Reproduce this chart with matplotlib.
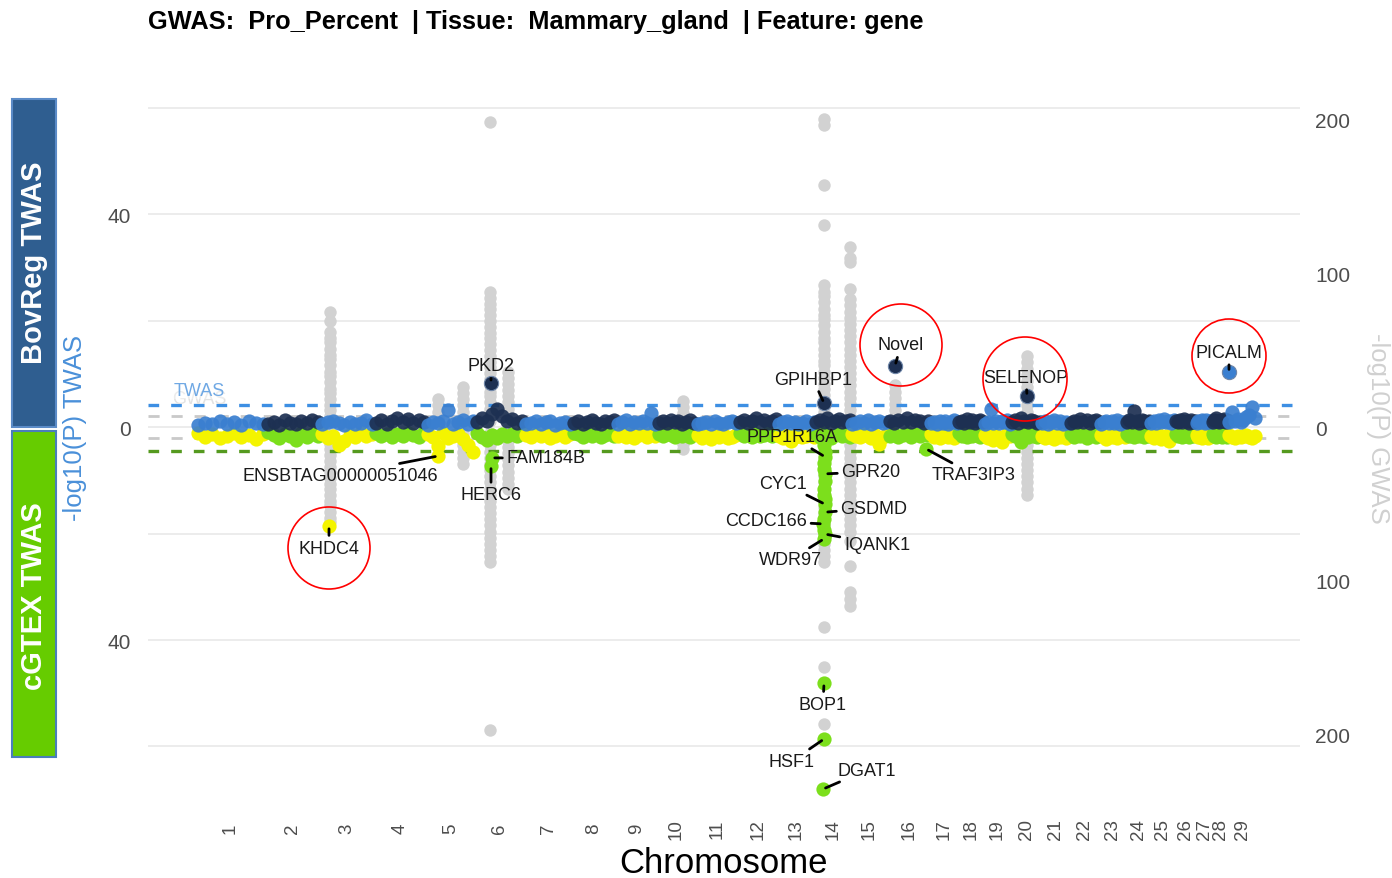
import numpy as np
import matplotlib.pyplot as plt
from matplotlib.patches import Circle, Rectangle

plt.rcParams['font.family'] = ['Liberation Sans', 'DejaVu Sans']

# ============================================
# Data
# ============================================

chroms = list(range(1, 30))
chrom_len = [142, 108, 108, 104, 98, 98, 96, 88, 82, 78, 84, 80, 74, 72,
             74, 84, 56, 52, 54, 60, 58, 60, 52, 48, 50, 42, 32, 32, 56]

# BovReg TWAS -log10(P), background genes of each chromosome
bov_band = [
    [0.3, 0.8, 0.5, 1.1, 0.6, 0.9, 0.4, 1.2, 0.7, 0.5],
    [0.6, 1.0, 0.4, 1.3, 0.8, 0.5, 1.1, 0.7, 1.4, 0.9],
    [0.5, 0.9, 1.2, 0.7, 0.4, 1.0, 0.6, 0.8, 1.3, 0.5],
    [0.8, 1.4, 0.6, 1.1, 1.7, 0.9, 1.5, 0.7, 1.3, 1.0],
    [0.4, 1.0, 0.7, 1.2, 3.2, 0.5, 0.9, 1.3, 0.6, 1.1],
    [0.9, 1.6, 1.2, 2.4, 3.4, 2.0, 1.1, 1.5, 0.8, 1.2],
    [0.5, 0.8, 1.1, 0.6, 0.9, 1.2, 0.4, 0.7, 1.0, 0.6],
    [0.7, 1.2, 0.5, 1.0, 1.4, 0.8, 0.6, 1.1, 0.9, 1.3],
    [0.6, 0.9, 1.3, 0.5, 1.0, 0.7, 1.2, 0.8, 2.6, 0.6],
    [0.8, 1.1, 0.7, 1.3, 0.9, 1.2, 0.6, 1.0, 1.4, 0.8],
    [0.5, 0.7, 1.0, 0.6, 1.2, 0.8, 0.5, 0.9, 1.1, 0.7],
    [1.0, 1.4, 0.8, 1.2, 1.6, 0.9, 1.3, 0.7, 1.1, 1.5],
    [0.6, 0.9, 1.2, 0.7, 1.0, 0.5, 0.8, 1.1, 0.6, 0.9],
    [0.9, 1.3, 1.0, 1.6, 0.8, 1.2, 1.5, 0.9, 1.1, 1.4],
    [0.5, 0.8, 1.1, 0.7, 1.3, 0.6, 0.9, 1.2, 0.8, 1.0],
    [1.1, 0.8, 1.4, 1.0, 1.6, 0.9, 1.3, 1.1, 0.7, 1.2],
    [0.7, 1.0, 0.6, 1.2, 0.8, 1.1, 0.5, 0.9, 1.3, 0.7],
    [0.9, 1.2, 0.8, 1.5, 1.0, 1.3, 0.7, 1.1, 1.4, 0.9],
    [0.6, 1.0, 3.4, 0.8, 1.2, 0.7, 1.1, 0.9, 1.3, 0.6],
    [1.0, 1.3, 0.8, 1.6, 1.1, 0.9, 1.4, 1.2, 0.8, 1.0],
    [0.7, 1.1, 0.6, 0.9, 1.3, 0.8, 1.2, 0.5, 1.0, 0.8],
    [0.8, 1.2, 1.0, 1.5, 0.9, 1.3, 0.7, 1.1, 1.4, 0.9],
    [0.6, 0.9, 1.2, 0.7, 1.1, 0.8, 1.3, 0.6, 1.0, 0.9],
    [1.0, 1.4, 0.9, 3.0, 1.2, 0.8, 1.3, 1.1, 0.9, 1.2],
    [0.7, 1.2, 0.8, 1.4, 1.0, 1.5, 0.9, 1.1, 0.8, 1.3],
    [1.1, 0.9, 1.3, 1.0, 1.5, 1.2, 0.8, 1.4, 1.0, 1.1],
    [0.8, 1.2, 0.9, 1.4, 1.1, 0.7, 1.3, 1.0, 1.2, 0.9],
    [1.0, 1.3, 1.6, 1.1, 0.9, 1.4, 1.2, 1.5, 1.0, 1.3],
    [0.9, 2.8, 1.2, 1.5, 1.0, 1.4, 1.8, 2.2, 3.8, 1.6],
]

# cGTEx TWAS -log10(P), background genes of each chromosome
gtex_band = [
    [1.2, 1.8, 1.4, 2.0, 1.6, 1.1, 1.9, 1.5, 2.2, 1.3],
    [1.0, 1.5, 2.1, 1.3, 1.7, 2.4, 1.2, 1.9, 1.4, 1.6],
    [1.4, 2.0, 1.6, 3.4, 2.6, 1.5, 1.8, 1.2, 1.7, 1.3],
    [1.1, 1.6, 1.3, 1.9, 1.4, 1.7, 1.2, 1.5, 1.8, 1.0],
    [1.3, 1.8, 3.6, 1.2, 2.0, 1.6, 1.4, 2.2, 3.4, 4.6],
    [1.2, 1.9, 2.4, 1.5, 2.0, 1.4, 1.7, 1.3, 1.6, 1.1],
    [1.5, 1.9, 1.3, 1.7, 1.4, 2.0, 1.6, 1.2, 1.8, 1.4],
    [1.1, 1.4, 1.8, 1.2, 1.6, 1.3, 1.9, 1.5, 1.2, 1.7],
    [1.6, 1.2, 1.9, 1.4, 2.1, 1.5, 1.3, 1.8, 1.4, 1.6],
    [1.3, 1.7, 1.2, 1.5, 1.9, 1.4, 1.6, 1.1, 1.8, 1.3],
    [1.5, 2.0, 1.7, 2.3, 1.6, 1.9, 1.4, 2.1, 1.8, 1.5],
    [1.2, 1.6, 1.4, 1.9, 1.3, 1.7, 1.5, 1.2, 1.6, 1.4],
    [1.6, 2.0, 1.5, 2.6, 1.8, 1.4, 1.9, 1.7, 1.3, 1.8],
    [1.4, 1.8, 1.2, 1.6, 2.0, 1.5, 1.3, 1.7, 1.4, 1.9],
    [1.3, 1.7, 1.9, 1.4, 1.6, 2.0, 1.5, 3.2, 1.8, 1.4],
    [1.6, 1.3, 1.8, 1.5, 1.2, 1.9, 1.4, 1.7, 1.3, 1.5],
    [1.4, 1.9, 1.5, 2.1, 1.7, 1.3, 1.8, 1.6, 2.0, 1.5],
    [1.2, 1.6, 1.4, 1.8, 1.3, 1.7, 1.5, 1.2, 1.9, 1.4],
    [1.5, 2.0, 1.7, 2.4, 1.6, 1.9, 2.8, 1.8, 1.4, 1.7],
    [1.3, 1.7, 1.5, 2.9, 1.4, 1.8, 1.2, 1.6, 1.9, 1.3],
    [1.6, 2.1, 1.8, 1.5, 2.3, 1.7, 1.9, 1.4, 2.0, 1.6],
    [1.4, 1.8, 1.3, 1.7, 1.5, 2.0, 1.6, 1.2, 1.8, 1.5],
    [1.5, 1.9, 2.2, 1.6, 1.8, 1.4, 2.0, 1.7, 1.5, 1.8],
    [1.3, 1.6, 1.4, 1.8, 1.2, 1.7, 1.5, 1.9, 1.4, 1.6],
    [1.6, 2.0, 1.7, 1.5, 2.2, 1.8, 1.6, 2.6, 1.9, 1.5],
    [1.4, 1.7, 1.5, 1.9, 1.6, 1.3, 1.8, 1.5, 1.7, 1.4],
    [1.5, 1.9, 1.6, 2.1, 1.7, 1.8, 1.5, 2.0, 1.6, 1.7],
    [1.3, 1.6, 1.8, 1.4, 1.7, 1.5, 1.9, 1.6, 1.4, 1.8],
    [1.5, 1.8, 2.0, 1.6, 1.9, 1.7, 1.5, 1.8, 2.1, 1.6],
]

# labelled BovReg TWAS genes
bov_genes = ['PKD2', 'GPIHBP1', 'Novel', 'SELENOP', 'PICALM']
bov_chr = [6, 14, 16, 20, 29]
bov_pos = [32, 18, 14, 32, 2]
bov_val = [8.3, 4.5, 11.5, 5.8, 10.3]

# labelled cGTEx TWAS genes
gtex_genes = ['ENSBTAG00000051046', 'KHDC4', 'HERC6', 'FAM184B', 'PPP1R16A',
              'GPR20', 'CYC1', 'GSDMD', 'CCDC166', 'IQANK1', 'WDR97',
              'BOP1', 'HSF1', 'DGAT1', 'TRAF3IP3']
gtex_chr = [5, 3, 6, 6, 14, 14, 14, 14, 14, 14, 14, 14, 14, 14, 16]
gtex_pos = [24, 18, 32, 34, 20, 20, 20, 20, 16, 20, 18, 18, 18, 16, 76]
gtex_val = [5.45, 18.6, 7.3, 5.8, 5.6, 8.8, 14.5, 16.0, 18.2, 20.1, 21.0,
            48.1, 58.6, 68.0, 4.1]

# other cGTEx genes around DGAT1 (BTA14)
gtex_bta14_pos = [17, 19, 18, 17, 19, 18, 17, 19, 18, 17]
gtex_bta14_val = [3.4, 4.6, 6.8, 7.8, 10.2, 11.6, 12.8, 13.6, 17.2, 19.4]

# GWAS -log10(P) at the peak loci (upper = BovReg genes, lower = cGTEx genes)
gwas_chr = [3, 5, 5, 6, 6, 10, 14, 14, 16, 20]
gwas_pos = [20, 24, 74, 30, 66, 52, 17, 70, 14, 32]
gwas_up = [
    [75, 69, 62, 58, 55, 51, 47, 44, 40, 36, 33, 29, 25, 22, 18, 14, 11, 7, 4],
    [18, 14, 10, 6],
    [26, 22, 18, 14, 10, 6],
    [198, 88, 84, 80, 77, 73, 69, 65, 61, 58, 54, 50, 46, 42, 39, 35, 31,
     27, 23, 20, 16, 12, 8, 4],
    [36, 32, 28, 24, 20, 16, 12, 8],
    [17, 13, 9, 5],
    [200, 196, 157, 131, 92, 88, 85, 81, 77, 73, 70, 66, 62, 58, 55, 51,
     47, 43, 40, 36, 32, 28, 25, 21, 17, 13, 10, 6],
    [117, 110, 107, 90, 83, 79, 75, 71, 67, 63, 59, 55, 51, 47, 43, 39, 35,
     31, 27, 23, 19, 15, 11, 7, 3],
    [27, 23, 19, 15, 11, 7],
    [46, 42, 38, 34, 30, 26, 22, 18, 14, 10, 6],
]
gwas_dn = [
    [3, 7, 11, 14, 18, 22, 26, 29, 33, 37, 40, 44, 48, 51, 55, 59, 62],
    [],
    [4, 8, 12, 16, 20, 24],
    [4, 8, 12, 16, 20, 24, 28, 32, 36, 40, 44, 48, 52, 56, 60, 64, 68, 72,
     76, 80, 84, 88, 197],
    [5, 9, 13, 17, 21, 25, 29, 33, 37, 40],
    [4, 8, 11, 14],
    [4, 8, 12, 16, 20, 24, 28, 32, 36, 40, 44, 48, 52, 56, 60, 64, 68, 72,
     76, 80, 84, 88, 130, 156, 193],
    [4, 8, 12, 16, 20, 24, 28, 32, 36, 40, 44, 48, 52, 56, 60, 64, 68, 74,
     90, 107, 112, 116],
    [],
    [4, 8, 12, 16, 20, 24, 28, 32, 36, 40, 44],
]

twas_bov_thr = 4.13
twas_gtex_thr = 4.56
gwas_thr = 7.3
gwas_scale = 0.289   # GWAS units -> TWAS units on the shared y axis

# ============================================
# Helpers
# ============================================

chrom_start = np.concatenate([[0], np.cumsum(chrom_len)[:-1]])
chrom_mid = chrom_start + np.array(chrom_len) / 2


def gpos(c, p):
    return chrom_start[c - 1] + p


light_blue = '#3a7fd0'
dark_blue = '#1d3052'
lime = '#7cdf1c'
yellow = '#f4f400'
gray = '#d2d2d2'
dot = 105

fig = plt.figure(figsize=(13.92, 8.79), dpi=100)
ax = fig.add_axes([148 / 1392, 1 - 800 / 879, 1152 / 1392, 705 / 879])

# GWAS points (grey, behind)
for c, p, up, dn in zip(gwas_chr, gwas_pos, gwas_up, gwas_dn):
    x = gpos(c, p)
    ax.scatter([x] * len(up), np.array(up) * gwas_scale, s=80, color=gray,
               lw=0, zorder=1)
    ax.scatter([x] * len(dn), -np.array(dn) * gwas_scale, s=80, color=gray,
               lw=0, zorder=1)

# threshold lines
ax.axhline(twas_bov_thr, color='#3d8fe3', lw=2.4, ls=(0, (3.2, 3.6)), zorder=1.5)
ax.axhline(gwas_thr * gwas_scale, color='#c9c9c9', lw=2.0, ls=(0, (4, 4.3)), zorder=1.5)
ax.axhline(-gwas_thr * gwas_scale, color='#c9c9c9', lw=2.0, ls=(0, (4, 4.3)), zorder=1.5)
ax.axhline(-twas_gtex_thr, color='#559a1f', lw=2.4, ls=(0, (3.2, 3.6)), zorder=1.5)

# cGTEx band (lower, yellow / green by chromosome)
for i, c in enumerate(chroms):
    vals = np.array(gtex_band[i])
    xs = chrom_start[i] + np.linspace(0.04, 0.96, len(vals)) * chrom_len[i]
    col = yellow if c % 2 == 1 else lime
    ax.scatter(xs, -vals, s=dot, color=col, lw=0, zorder=2)

ax.scatter(gpos(14, np.array(gtex_bta14_pos)), -np.array(gtex_bta14_val),
           s=dot, color=lime, lw=0, zorder=2)

# BovReg band (upper, light / dark blue by chromosome)
for i, c in enumerate(chroms):
    vals = np.array(bov_band[i])
    xs = chrom_start[i] + np.linspace(0.04, 0.96, len(vals)) * chrom_len[i]
    col = light_blue if c % 2 == 1 else dark_blue
    ax.scatter(xs, vals, s=dot, color=col, lw=0, alpha=0.92, zorder=3)

# labelled genes
bov_offsets = {'PKD2': (0, 17), 'GPIHBP1': (-11, 24), 'Novel': (6, 21),
               'SELENOP': (-1, 19), 'PICALM': (0, 20)}
gtex_offsets = {'ENSBTAG00000051046': (-98, -19), 'KHDC4': (0, -22),
                'HERC6': (0, -29), 'FAM184B': (54, 0), 'PPP1R16A': (-33, 20),
                'GPR20': (46, 2), 'CYC1': (-42, 21), 'GSDMD': (49, 4),
                'CCDC166': (-57, 3), 'IQANK1': (52, -10), 'WDR97': (-34, -21),
                'BOP1': (-1, -21), 'HSF1': (-32, -22), 'DGAT1': (44, 19),
                'TRAF3IP3': (48, -26)}

for g, c, p, v in zip(bov_genes, bov_chr, bov_pos, bov_val):
    x = gpos(c, p)
    col = light_blue if c % 2 == 1 else dark_blue
    ax.scatter([x], [v], s=dot, color=col, lw=0.8, edgecolor='#6f86a8', zorder=4)
    dx, dy = bov_offsets[g]
    ax.annotate(g, xy=(x, v), xytext=(dx * 0.72, dy * 0.72),
                textcoords='offset points', ha='center', va='center',
                fontsize=13, color='#1a1a1a', zorder=5,
                arrowprops=dict(arrowstyle='-', color='black', lw=2,
                                shrinkA=1, shrinkB=2))

for g, c, p, v in zip(gtex_genes, gtex_chr, gtex_pos, gtex_val):
    x = gpos(c, p)
    col = yellow if c % 2 == 1 else lime
    ax.scatter([x], [-v], s=dot, color=col, lw=0, zorder=4)
    dx, dy = gtex_offsets[g]
    ax.annotate(g, xy=(x, -v), xytext=(dx * 0.72, dy * 0.72),
                textcoords='offset points', ha='center', va='center',
                fontsize=13, color='#1a1a1a', zorder=5,
                arrowprops=dict(arrowstyle='-', color='black', lw=2,
                                shrinkA=1, shrinkB=2))

# threshold names (the grey one sits half hidden under the blue one)
ax.text(8, 5.3, 'GWAS', color='#e2e2e2', fontsize=13, ha='center', va='center', zorder=1.6)
ax.text(8, 6.9, 'TWAS', color='#6fa8e4', fontsize=13, ha='center', va='center', zorder=1.7,
        bbox=dict(facecolor='white', edgecolor='none', alpha=0.35, pad=0))

# ============================================
# Axes styling
# ============================================

ax.set_xlim(-94, 2210)
ax.set_ylim(-69.86, 62.54)
for s in ax.spines.values():
    s.set_visible(False)
ax.set_yticks([-40, 0, 40])
ax.set_yticklabels(['40', '0', '40'])
ax.set_yticks([-60, -20, 20, 60], minor=True)
ax.grid(axis='y', which='both', color='#ebebeb', lw=1.3)
ax.set_axisbelow(True)
ax.tick_params(axis='y', which='both', length=0, pad=12, labelsize=15,
               labelcolor='#4d4d4d')

ax.set_xticks(chrom_mid)
ax.set_xticklabels([str(c) for c in chroms], rotation=90, va='center')
ax.tick_params(axis='x', length=0, pad=21, labelsize=13.5, labelcolor='#4d4d4d')

ax2 = ax.twinx()
ax2.set_ylim(ax.get_ylim())
ax2.set_yticks([-200 * gwas_scale, -100 * gwas_scale, 0,
                100 * gwas_scale, 200 * gwas_scale])
ax2.set_yticklabels(['200', '100', '0', '100', '200'])
ax2.tick_params(axis='y', length=0, pad=11, labelsize=15, labelcolor='#4d4d4d')
for s in ax2.spines.values():
    s.set_visible(False)

fig.text(724 / 1392, 1 - 864 / 879, 'Chromosome', fontsize=25,
         ha='center', va='center', color='black')
fig.text(75 / 1392, 1 - 428 / 879, '-log10(P) TWAS', fontsize=18.5,
         rotation=90, ha='center', va='center', color='#4a90d9')
fig.text(1378 / 1392, 1 - 428 / 879, '-log10(P) GWAS', fontsize=18.5,
         rotation=270, ha='center', va='center', color='#d0d0d0')
fig.text(148 / 1392, 1 - 22 / 879,
         'GWAS:  Pro_Percent  | Tissue:  Mammary_gland  | Feature: gene',
         fontsize=18.3, fontweight='bold', ha='left', va='center')

# panel tags on the left
fig.add_artist(Rectangle((12 / 1392, 1 - 428 / 879), 44 / 1392, 328 / 879,
                         transform=fig.transFigure, facecolor='#2f5e90',
                         edgecolor='#5b8bc7', lw=1.5))
fig.add_artist(Rectangle((12 / 1392, 1 - 758 / 879), 44 / 1392, 326 / 879,
                         transform=fig.transFigure, facecolor='#66cc00',
                         edgecolor='#4a7ebb', lw=1.5))
fig.text(34 / 1392, 1 - 263 / 879, 'BovReg TWAS', rotation=90, color='white',
         fontsize=21, fontweight='bold', ha='center', va='center')
fig.text(34 / 1392, 1 - 596 / 879, 'cGTEX TWAS', rotation=90, color='white',
         fontsize=21, fontweight='bold', ha='center', va='center')

# red highlight circles
for cx, cy, r in [(329, 549, 41), (901, 346, 41), (1025, 380, 42), (1229, 357, 37)]:
    fig.add_artist(Circle((cx / 100, (879 - cy) / 100), r / 100,
                          transform=fig.dpi_scale_trans, fill=False,
                          edgecolor='red', lw=1.2))

plt.savefig('out.png', dpi=100)
